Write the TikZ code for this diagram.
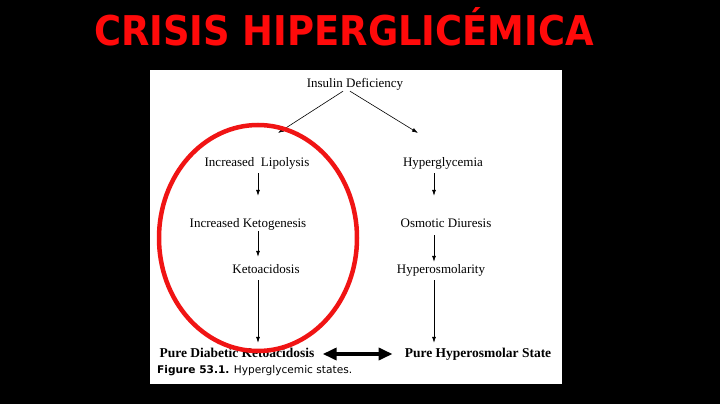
\documentclass[tikz,border=0pt]{standalone}
\usepackage{fontspec}
\setmainfont{Liberation Serif}
\newfontfamily\dejavu{DejaVu Sans}
\newfontfamily\dejavucond{DejaVu Sans Condensed}
\usepackage{tikz}
\usetikzlibrary{arrows.meta, positioning, calc}
\definecolor{titlered}{RGB}{255, 10, 10}
\definecolor{ringred}{RGB}{240, 20, 20}

\begin{document}
\begin{tikzpicture}[x=1pt, y=-1pt,
    stage/.style={inner sep=1pt, text height=9pt, text depth=3pt, font=\fontsize{13}{15}\selectfont},
    finalstate/.style={inner sep=1pt, text height=9pt, text depth=3pt, font=\fontsize{13.5}{15}\selectfont\bfseries},
    flow/.style={-{Latex[length=6pt, width=4pt]}, line width=0.6pt}]
        % Background and slide panel
        \fill[black] (0,0) rectangle (720,404);
        \fill[white] (150,70) rectangle (562,384);
        % Title
        \node[text=titlered, font=\dejavucond\fontsize{41}{44}\selectfont\bfseries] (title) at (344,27) {CRISIS HIPERGLICÉMICA};

        % Top of the chart
        \node[stage] (insulin) at (355,84) {Insulin Deficiency};
        \coordinate (lefttip) at (278,133);
        \coordinate (righttip) at (418,133);
        \coordinate (lcol) at (258,0);
        \coordinate (rcol) at (434,0);

        % Left branch
        \node[stage] (lipolysis) at (257,163) {Increased\ \ Lipolysis};
        \node[stage] (ketogen) at (248,224) {Increased Ketogenesis};
        \node[stage] (ketoacid) at (266,270) {Ketoacidosis};
        \node[finalstate] (pdka) at (237,354) {Pure Diabetic Ketoacidosis};

        % Right branch
        \node[stage] (hyperglyc) at (443,163) {Hyperglycemia};
        \node[stage] (osmotic) at (446,224) {Osmotic Diuresis};
        \node[stage] (hyperosm) at (441,270) {Hyperosmolarity};
        \node[finalstate] (phs) at (478,354) {Pure Hyperosmolar State};

        % Caption
        \node[anchor=west, inner sep=0pt, font=\dejavu\fontsize{10.6}{12}\selectfont] (caption) at (157,371) {\textbf{Figure 53.1.} Hyperglycemic states.};

        % Connecting arrows
        \draw[flow] ([xshift=-12pt]insulin.south) -- (lefttip);
        \draw[flow] ([xshift=-5pt]insulin.south) -- (righttip);
        \draw[flow, shorten <=3pt, shorten >=21pt] (lipolysis.south -| lcol) -- (ketogen.north -| lcol);
        \draw[flow, shorten >=6pt] (ketogen.south -| lcol) -- (ketoacid.north -| lcol);
        \draw[flow, shorten <=3pt, shorten >=4pt] (ketoacid.south -| lcol) -- (pdka.north -| lcol);
        \draw[flow, shorten <=3pt, shorten >=21pt] (hyperglyc.south -| rcol) -- (osmotic.north -| rcol);
        \draw[flow, shorten <=4pt, shorten >=1pt] (osmotic.south -| rcol) -- (hyperosm.north -| rcol);
        \draw[flow, shorten <=3pt, shorten >=4pt] (hyperosm.south -| rcol) -- (phs.north -| rcol);
        \draw[{Triangle[length=14pt, width=12pt]}-{Triangle[length=14pt, width=12pt]}, line width=3.5pt, shorten <=7pt, shorten >=11pt] (pdka.east) -- (phs.west);

        % Red ring
        \draw[ringred, line width=4.5pt] (258,238) ellipse [x radius=99pt, y radius=113pt];
    \end{tikzpicture}
\end{document}
